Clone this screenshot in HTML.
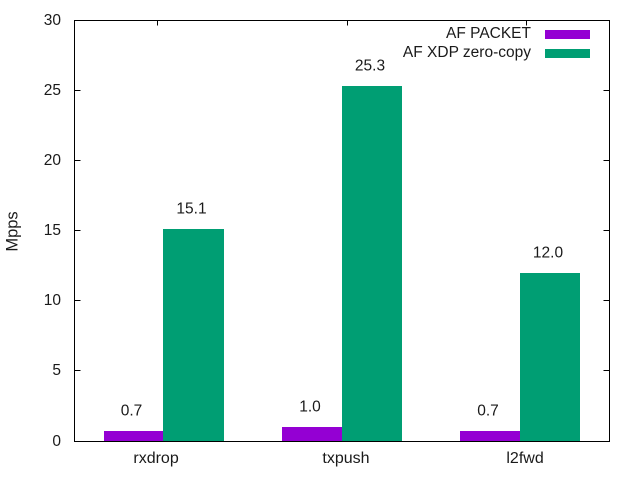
<!DOCTYPE html>
<html>
<head>
<meta charset="utf-8">
<title>Mpps chart</title>
<style>
html,body{margin:0;padding:0;background:#fff;width:640px;height:480px;overflow:hidden}
svg{display:block}
text{font-family:"Liberation Sans",sans-serif;font-size:15.5px;fill:#1a1a1a}
</style>
</head>
<body>
<svg id="chart" xmlns="http://www.w3.org/2000/svg" width="640" height="480" viewBox="0 0 640 480">
<rect x="0" y="0" width="640" height="480" fill="#fff"/>
<g id="bars"></g>
<g id="labels"></g>
<g id="axes"></g>
<g>
<g>
<text x="531" y="38" text-anchor="end">AF PACKET</text>
<rect x="545" y="30" width="45" height="9" fill="#9400d3"/>
</g>
<g>
<text x="531" y="57" text-anchor="end">AF XDP zero-copy</text>
<rect x="545" y="49" width="45" height="9" fill="#009e73"/>
</g>
</g>
<text x="0" y="0" text-anchor="middle" style="font-size:16.5px" transform="translate(17.5,231.5) rotate(-90)">Mpps</text>
</svg>
<script>
const categories = ['rxdrop', 'txpush', 'l2fwd'];
const xTickPositions = [-0.037, 1.028, 2.032];
const afPacket = [0.7, 1.0, 0.7];
const afXdp = [15.1, 25.3, 12.0];
const afPacketLabels = ['0.7', '1.0', '0.7'];
const afXdpLabels = ['15.1', '25.3', '12.0'];
const yTicks = [0, 5, 10, 15, 20, 25, 30];

const NS = 'http://www.w3.org/2000/svg';
const plot = { left: 74.5, right: 609.5, top: 20.5, bottom: 441.5 };
const yMax = yTicks[yTicks.length - 1];
const BAR_W = 60;
function xScale(i) {
  return plot.left + (i + 0.5) * (plot.right - plot.left) / categories.length;
}
function yScale(v) {
  return plot.bottom - v * (plot.bottom - plot.top) / yMax;
}
function make(tag, attrs, parent, txt) {
  const el = document.createElementNS(NS, tag);
  for (const k in attrs) el.setAttribute(k, attrs[k]);
  if (txt !== undefined) el.textContent = txt;
  parent.appendChild(el);
  return el;
}
const barsG = document.getElementById('bars');
const labelsG = document.getElementById('labels');
const axesG = document.getElementById('axes');

function drawSeries(values, texts, side, color, name) {
  values.forEach(function (v, i) {
    const c = xScale(i);
    const x0 = side < 0 ? Math.round(c - BAR_W) : Math.floor(c);
    const x1 = side < 0 ? Math.floor(c) : Math.round(c + BAR_W);
    const y0 = Math.floor(yScale(v));
    const bar = make('rect', { x: x0, y: y0, width: x1 - x0, height: Math.round(plot.bottom) - y0, fill: color }, barsG);
    
    
    const t = make('text', { x: (x0 + x1) / 2 - 2, y: y0 - 15.5, 'text-anchor': 'middle' }, labelsG, texts[i]);
    
    
  });
}
drawSeries(afPacket, afPacketLabels, -1, '#9400d3', 'af-packet');
drawSeries(afXdp, afXdpLabels, 1, '#009e73', 'af-xdp');

const frame = make('rect', { x: plot.left, y: plot.top, width: plot.right - plot.left, height: plot.bottom - plot.top, fill: 'none', stroke: '#000', 'stroke-width': 1 }, axesG);



yTicks.forEach(function (v) {
  const y = Math.floor(yScale(v) - 0.5) + 0.5;
  const l = make('line', { x1: plot.left, x2: plot.left + 6, y1: y, y2: y, stroke: '#000' }, axesG);
  
  
  const r = make('line', { x1: plot.right - 6, x2: plot.right, y1: y, y2: y, stroke: '#000' }, axesG);
  
  
  const t = make('text', { x: 61, y: y + 4.5, 'text-anchor': 'end' }, axesG, String(v));
  
  
});

categories.forEach(function (c, i) {
  const tx = plot.left + (xTickPositions[i] + 0.5) * (plot.right - plot.left) / categories.length;
  const x = Math.round(tx) + 0.5;
  const tk = make('line', { x1: x, x2: x, y1: plot.top, y2: plot.top + 5, stroke: '#000' }, axesG);
  
  
  const t = make('text', { x: tx - 1, y: 463, 'text-anchor': 'middle', style: 'font-size:16px' }, axesG, c);
  
  
});
</script>
</body>
</html>
